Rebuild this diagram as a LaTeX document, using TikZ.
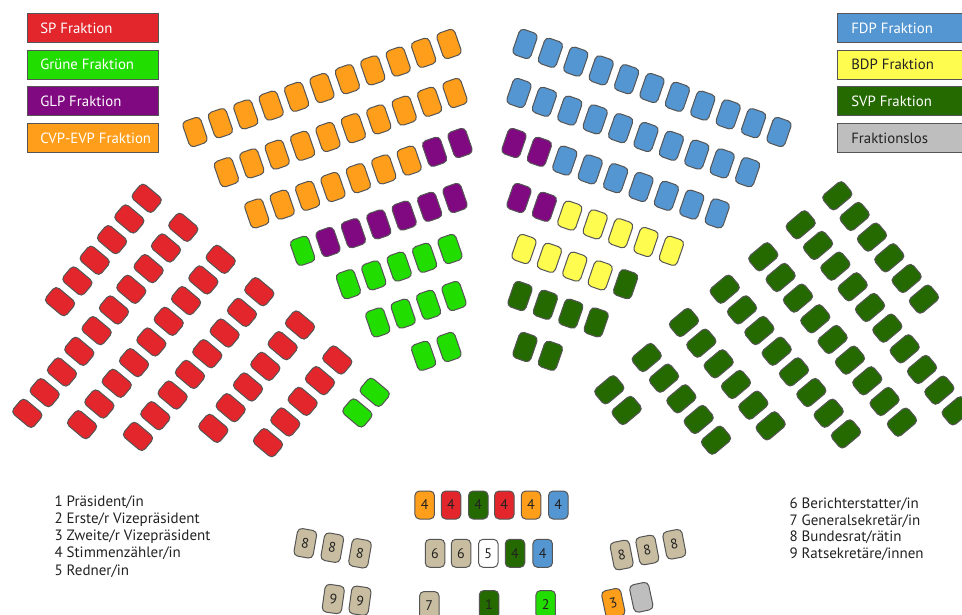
\documentclass[tikz,border=0pt]{standalone}
\usepackage{fontspec}
\setmainfont{PT Sans}
\definecolor{cRed}{RGB}{226,38,44}
\definecolor{cGreen}{RGB}{34,221,0}
\definecolor{cPurple}{RGB}{128,8,128}
\definecolor{cOrange}{RGB}{255,158,26}
\definecolor{cBlue}{RGB}{84,150,210}
\definecolor{cYellow}{RGB}{255,252,80}
\definecolor{cDkGreen}{RGB}{36,106,0}
\definecolor{cGrey}{RGB}{190,190,190}
\definecolor{cTan}{RGB}{200,189,160}
\definecolor{cEdge}{RGB}{85,85,85}
\definecolor{cText}{RGB}{34,34,34}
\tikzset{
  seatbox/.style={draw=cEdge, line width=1pt, rounded corners=4.5pt, minimum width=19pt, minimum height=27pt, inner sep=0pt, fill=#1},
  botseat/.style={seatbox=#1, minimum width=19.5pt, minimum height=28pt, font=\fontsize{14}{14}\selectfont, text=cText},
  legendbox/.style={draw=cEdge, line width=1.2pt, minimum height=29pt, inner xsep=13pt, inner ysep=0pt, anchor=west, font=\fontsize{14.8}{15}\selectfont},
  listtext/.style={anchor=base west, inner sep=0pt, font=\fontsize{15}{15}\selectfont, text=cText}
}
\newcommand\seatrow[7]{%
  \foreach \cc [count=\kk from 0] in {#7}{%
    \node[seatbox=\cc, rotate=#6] (#1-\kk) at ({#2+(#4)*\kk},{#3+(#5)*\kk}) {};}}
\newcommand\lboxtext[1]{\makebox[105pt][l]{#1}}
\newcommand\rboxtext[1]{\makebox[110pt][l]{#1}}
\begin{document}
\begin{tikzpicture}[x=1pt,y=-1pt]
\useasboundingbox (0,0) rectangle (962,614);
\fill[white] (0,0) rectangle (962,614);
% legends
\node[legendbox, fill=cRed, text=white] (lg1) at (26.7,28) {\lboxtext{SP Fraktion}};
\node[legendbox, fill=cGreen, text=white] (lg2) at (26.7,64.7) {\lboxtext{Grüne Fraktion}};
\node[legendbox, fill=cPurple, text=white] (lg3) at (26.7,101.3) {\lboxtext{GLP Fraktion}};
\node[legendbox, fill=cOrange, text=white] (lg4) at (26.7,138) {\lboxtext{CVP-EVP Fraktion}};
\node[legendbox, fill=cBlue, text=white, inner xsep=14pt] (rg1) at (836.7,28) {\rboxtext{FDP Fraktion}};
\node[legendbox, fill=cYellow, text=cText, inner xsep=14pt] (rg2) at (836.7,64.7) {\rboxtext{BDP Fraktion}};
\node[legendbox, fill=cDkGreen, text=white, inner xsep=14pt] (rg3) at (836.7,101.3) {\rboxtext{SVP Fraktion}};
\node[legendbox, fill=cGrey, text=cText, inner xsep=14pt] (rg4) at (836.7,138) {\rboxtext{Fraktionslos}};
% top left block
\seatrow{ta}{449}{44}{-25.4}{8.8}{19}{cOrange,cOrange,cOrange,cOrange,cOrange,cOrange,cOrange,cOrange,cOrange,cOrange,cOrange}
\seatrow{tb}{455}{93}{-25.4}{8.8}{19}{cOrange,cOrange,cOrange,cOrange,cOrange,cOrange,cOrange,cOrange,cOrange,cOrange}
\seatrow{tc}{460}{143}{-25.4}{8.8}{19}{cPurple,cPurple,cOrange,cOrange,cOrange,cOrange,cOrange,cOrange,cOrange}
\seatrow{td}{455}{198}{-25.4}{8.8}{19}{cPurple,cPurple,cPurple,cPurple,cPurple,cPurple,cGreen}
\seatrow{te}{450}{249}{-25.4}{8.8}{19}{cGreen,cGreen,cGreen,cGreen,cGreen}
\seatrow{tf}{454}{296}{-25.4}{8.8}{19}{cGreen,cGreen,cGreen,cGreen}
\seatrow{tg}{449}{347}{-25.4}{8.8}{19}{cGreen,cGreen}
% top right block
\seatrow{ra}{525}{44}{25.4}{8.8}{-19}{cBlue,cBlue,cBlue,cBlue,cBlue,cBlue,cBlue,cBlue,cBlue,cBlue,cBlue}
\seatrow{rb}{519}{93}{25.4}{8.8}{-19}{cBlue,cBlue,cBlue,cBlue,cBlue,cBlue,cBlue,cBlue,cBlue,cBlue}
\seatrow{rc}{514}{143}{25.4}{8.8}{-19}{cPurple,cPurple,cBlue,cBlue,cBlue,cBlue,cBlue,cBlue,cBlue}
\seatrow{rd}{519}{198}{25.4}{8.8}{-19}{cPurple,cPurple,cYellow,cYellow,cYellow,cYellow,cYellow}
\seatrow{re}{524}{249}{25.4}{8.8}{-19}{cYellow,cYellow,cYellow,cYellow,cDkGreen}
\seatrow{rf}{520}{296}{25.4}{8.8}{-19}{cDkGreen,cDkGreen,cDkGreen,cDkGreen}
\seatrow{rg}{525}{347}{25.4}{8.8}{-19}{cDkGreen,cDkGreen}
% left wedge
\seatrow{wl1}{146.7}{198.3}{-17.33}{20.67}{50}{cRed,cRed,cRed,cRed,cRed,cRed}
\seatrow{wl2}{183.3}{227.3}{-17.33}{20.67}{50}{cRed,cRed,cRed,cRed,cRed,cRed,cRed,cRed,cRed,cRed}
\seatrow{wl3}{220.7}{259.3}{-17.33}{20.67}{50}{cRed,cRed,cRed,cRed,cRed,cRed,cRed,cRed,cRed}
\seatrow{wl4}{259.3}{291.7}{-17.33}{20.67}{50}{cRed,cRed,cRed,cRed,cRed,cRed,cRed,cRed}
\seatrow{wl5}{300}{325}{-17.33}{20.67}{50}{cRed,cRed,cRed,cRed,cRed,cRed}
\seatrow{wl6}{337.3}{360}{-17.33}{20.67}{50}{cRed,cRed,cRed,cRed,cRed}
\seatrow{wl7}{374.7}{392.3}{-17.33}{20.67}{50}{cGreen,cGreen}
% right wedge
\seatrow{wr1}{837.3}{195.8}{17.33}{20.67}{-50}{cDkGreen,cDkGreen,cDkGreen,cDkGreen,cDkGreen,cDkGreen}
\seatrow{wr2}{800.7}{224.8}{17.33}{20.67}{-50}{cDkGreen,cDkGreen,cDkGreen,cDkGreen,cDkGreen,cDkGreen,cDkGreen,cDkGreen,cDkGreen,cDkGreen}
\seatrow{wr3}{763.3}{256.8}{17.33}{20.67}{-50}{cDkGreen,cDkGreen,cDkGreen,cDkGreen,cDkGreen,cDkGreen,cDkGreen,cDkGreen,cDkGreen}
\seatrow{wr4}{724.7}{289.2}{17.33}{20.67}{-50}{cDkGreen,cDkGreen,cDkGreen,cDkGreen,cDkGreen,cDkGreen,cDkGreen,cDkGreen}
\seatrow{wr5}{684}{322.5}{17.33}{20.67}{-50}{cDkGreen,cDkGreen,cDkGreen,cDkGreen,cDkGreen,cDkGreen}
\seatrow{wr6}{646.7}{357.5}{17.33}{20.67}{-50}{cDkGreen,cDkGreen,cDkGreen,cDkGreen,cDkGreen}
\seatrow{wr7}{609.3}{389.8}{17.33}{20.67}{-50}{cDkGreen,cDkGreen}
% bottom front seats
\node[botseat=cOrange] (f1) at (424.7,505) {4};
\node[botseat=cRed] (f2) at (451,505) {4};
\node[botseat=cDkGreen] (f3) at (478.3,505) {4};
\node[botseat=cRed] (f4) at (504.3,505) {4};
\node[botseat=cOrange] (f5) at (531,505) {4};
\node[botseat=cBlue] (f6) at (558.3,505) {4};
\node[botseat=cTan] (g1) at (435,553.3) {6};
\node[botseat=cTan] (g2) at (461,553.3) {6};
\node[botseat=white] (g3) at (488.3,553.3) {5};
\node[botseat=cDkGreen] (g4) at (515,553.3) {4};
\node[botseat=cBlue] (g5) at (542.7,553.3) {4};
\node[botseat=cTan] (h1) at (429.3,605.5) {7};
\node[botseat=cDkGreen] (h2) at (489,604.5) {1};
\node[botseat=cGreen] (h3) at (545.7,604.5) {2};
\node[botseat=cTan, rotate=-10] (k1) at (305.3,543.3) {8};
\node[botseat=cTan, rotate=-10] (k2) at (332.3,547.7) {8};
\node[botseat=cTan, rotate=-10] (k3) at (360,553.3) {8};
\node[botseat=cTan, rotate=-8] (m1) at (333.3,599) {9};
\node[botseat=cTan, rotate=-8] (m2) at (360,600.7) {9};
\node[botseat=cTan, rotate=11] (n1) at (621.7,555) {8};
\node[botseat=cTan, rotate=11] (n2) at (647.3,550) {8};
\node[botseat=cTan, rotate=11] (n3) at (674.3,544.3) {8};
\node[botseat=cOrange, rotate=12] (p1) at (613.3,603.3) {3};
\node[botseat=cGrey, rotate=12] (p2) at (641.3,597.3) {};
% lists
\node[listtext] (t1) at (54.3,506) {1 Präsident/in};
\node[listtext] (t2) at (54.3,523.3) {2 Erste/r Vizepräsident};
\node[listtext] (t3) at (54.3,540.5) {3 Zweite/r Vizepräsident};
\node[listtext] (t4) at (54.3,557.8) {4 Stimmenzähler/in};
\node[listtext] (t5) at (54.3,575) {5 Redner/in};
\node[listtext] (t6) at (789.3,508.3) {6 Berichterstatter/in};
\node[listtext] (t7) at (789.3,525) {7 Generalsekretär/in};
\node[listtext] (t8) at (789.3,541.7) {8 Bundesrat/rätin};
\node[listtext] (t9) at (789.3,558.3) {9 Ratsekretäre/innen};
\end{tikzpicture}
\end{document}
